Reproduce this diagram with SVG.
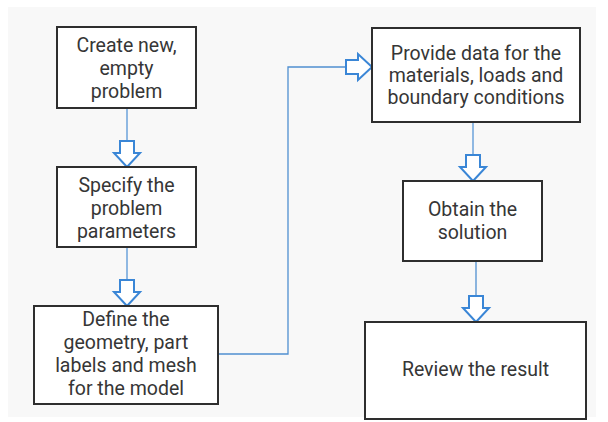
<svg xmlns="http://www.w3.org/2000/svg" width="608" height="422" viewBox="0 0 608 422">
  <defs>
    <style>
      .node rect { fill: #ffffff; stroke: #2e2e2e; stroke-width: 2; }
      .node text { font-family: Roboto, "Liberation Sans", sans-serif; font-size: 19.5px; fill: #363636; text-anchor: middle; }
      .stem { stroke: #8fb8e2; stroke-width: 2; fill: none; }
      .route { stroke: #4f8fd0; stroke-width: 1.3; fill: none; }
      .head { fill: #ffffff; stroke: #3a86d6; stroke-width: 2; stroke-linejoin: miter; }
    </style>
    <!-- hollow block arrow, tip at origin, pointing down -->
    <path id="blockArrow" d="M -7 -26 H 7 V -14 H 13 L 0 0 L -13 -14 H -7 Z"/>
  </defs>

  <rect x="0" y="0" width="608" height="422" fill="#ffffff"/>
  <rect x="8" y="7" width="588" height="410" fill="#f8f8f8"/>

  <g id="connectors">
    <line class="stem" x1="127" y1="108" x2="127" y2="141"/>
    <use href="#blockArrow" class="head" transform="translate(127,167)"/>

    <line class="stem" x1="127" y1="247" x2="127" y2="280"/>
    <use href="#blockArrow" class="head" transform="translate(127,306)"/>

    <polyline class="route" points="218,354 288,354 288,67 347,67"/>
    <use href="#blockArrow" class="head" transform="translate(372,67) rotate(-90)"/>

    <line class="stem" x1="473" y1="122" x2="473" y2="155"/>
    <use href="#blockArrow" class="head" transform="translate(473,181)"/>

    <line class="route" x1="476" y1="261" x2="476" y2="296"/>
    <use href="#blockArrow" class="head" transform="translate(476,322)"/>
  </g>

  <g id="create" class="node">
    <rect x="57" y="27" width="139" height="81"/>
    <text x="126.5" y="52">Create new,</text>
    <text x="126.5" y="75">empty</text>
    <text x="126.5" y="98">problem</text>
  </g>

  <g id="specify" class="node">
    <rect x="57" y="167" width="139" height="80"/>
    <text x="126.5" y="192">Specify the</text>
    <text x="126.5" y="215">problem</text>
    <text x="126.5" y="238">parameters</text>
  </g>

  <g id="define" class="node">
    <rect x="34" y="306" width="184" height="98"/>
    <text x="126" y="326">Define the</text>
    <text x="126" y="349">geometry, part</text>
    <text x="126" y="372">labels and mesh</text>
    <text x="126" y="395">for the model</text>
  </g>

  <g id="provide" class="node">
    <rect x="372" y="28" width="208" height="94"/>
    <text x="476" y="60">Provide data for the</text>
    <text x="476" y="82">materials, loads and</text>
    <text x="476" y="104">boundary conditions</text>
  </g>

  <g id="obtain" class="node">
    <rect x="403" y="181" width="139" height="80"/>
    <text x="472.5" y="216">Obtain the</text>
    <text x="472.5" y="239">solution</text>
  </g>

  <g id="review" class="node">
    <rect x="365" y="322" width="221" height="97"/>
    <text x="475.5" y="376">Review the result</text>
  </g>
</svg>
